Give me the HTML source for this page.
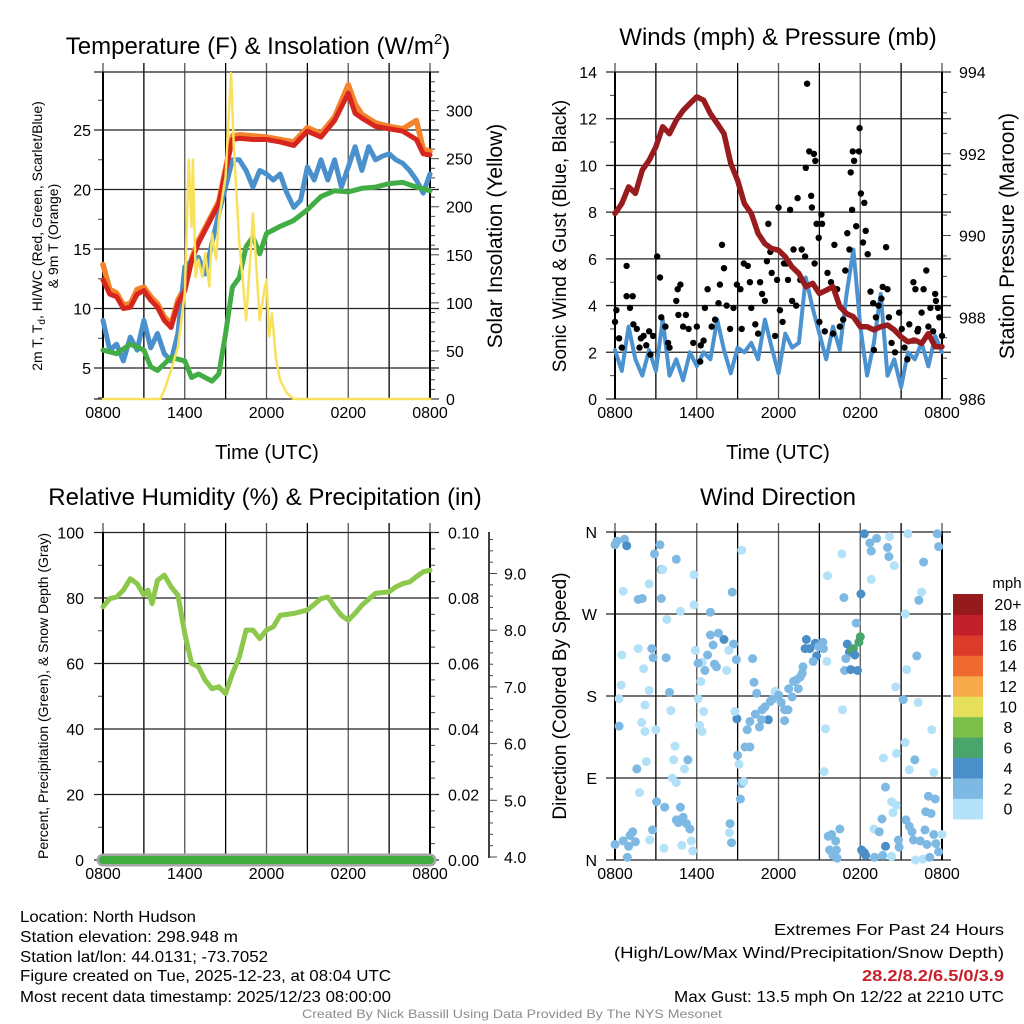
<!DOCTYPE html>
<html><head><meta charset="utf-8"><style>
html,body{margin:0;padding:0;background:#fff;}
svg{display:block;font-family:"Liberation Sans",sans-serif;}
</style></head><body>
<svg id="root" width="1024" height="1024" viewBox="0 0 1024 1024" xmlns="http://www.w3.org/2000/svg">
<rect width="1024" height="1024" fill="#fff"/>
</svg>
<script>
// ---------- data ----------
const hours = [0,0.5,1,1.5,2,2.5,3,3.5,4,4.5,5,5.5,6,6.5,7,7.5,8,8.5,9,9.5,10,11,12,13,14,15,16,17,18,18.5,19,20,21,22,23,23.5,24];
const tempRed = [12.4,11.2,11.0,10.0,10.1,11.2,11.5,10.7,10.1,9.0,8.4,10.4,11.5,14.0,15.5,16.6,17.7,18.8,21.6,24.2,24.3,24.2,24.2,24.0,23.7,24.9,24.4,25.8,28.1,26.4,26.0,25.3,25.1,24.9,24.2,23.0,22.9];
const tempOrange = [13.7,11.6,11.3,10.3,10.4,11.6,11.8,11.0,10.4,9.3,8.7,10.7,11.8,14.2,15.7,16.8,17.9,19.0,21.8,24.5,24.6,24.5,24.4,24.2,24.0,25.2,24.7,26.1,28.8,27.2,26.3,25.6,25.3,25.1,25.8,23.4,23.2];
const blueHours = [0,0.5,1,1.5,2,2.5,3,3.5,4,4.5,5,5.5,6,6.5,7,7.5,8,8.5,9,9.5,10,10.5,11,11.5,12,12.5,13,13.5,14,14.5,15,15.5,16,16.5,17,17.5,18,18.5,19,19.5,20,20.5,21,21.5,22,22.5,23,23.5,24];
const tempBlue = [9.0,6.5,7.0,5.6,7.6,6.5,9.0,6.7,7.9,6.2,5.6,7.9,13.5,14.0,14.3,12.9,15.5,18.0,20.2,22.5,22.5,21.6,20.2,21.6,21.3,20.8,21.3,19.7,18.5,19.1,21.9,20.8,22.5,20.8,22.5,20.2,21.9,23.6,21.6,23.6,22.5,22.8,23.0,22.5,22.2,21.6,20.8,19.7,21.3];
const greenHours = [0,1,2,3,3.5,4,5,6,6.5,7,8,8.5,9,9.5,10,10.5,11,11.5,12,13,14,15,16,17,18,19,20,21,22,23,24];
const dewGreen = [6.5,6.2,7.0,6.5,5.1,4.8,5.9,5.6,4.2,4.5,3.9,4.5,7.9,11.8,12.6,15.2,16.0,14.6,16.3,16.9,17.4,18.3,19.4,19.9,19.8,20.1,20.2,20.5,20.6,20.2,19.9];
const solarHours = [0,4.2,4.5,5,5.5,6,6.3,6.5,6.6,6.8,7,7.3,7.5,7.8,8,8.3,8.5,8.8,9,9.2,9.4,9.6,9.8,10,10.3,10.5,10.8,11,11.3,11.5,11.8,12,12.2,12.4,12.7,13,13.5,14,24];
const solar = [0,0,9,30,54,110,249,179,249,127,145,127,152,117,172,145,186,214,231,287,339,262,214,162,117,82,145,193,127,82,110,124,65,89,41,20,6,0,0];
const tempTicks = [5,10,15,20,25];
const solarTicks = [0,50,100,150,200,250,300];
const timeLabels = ["0800","1400","2000","0200","0800"];

const windHours = [0,0.5,1,1.5,2,2.5,3,3.5,4,4.5,5,5.5,6,6.5,7,7.5,8,8.5,9,9.5,10,10.5,11,11.5,12,12.5,13,13.5,14,14.5,15,15.5,16,16.5,17,17.5,18,18.5,19,19.5,20,20.5,21,21.5,22,22.5,23,23.5,24];
const wind = [2.1,1.2,3.1,1.7,1.0,2.1,1.2,3.4,1.0,1.7,0.8,2.0,1.4,2.0,1.7,3.4,2.1,1.1,2.2,2.0,2.4,1.7,3.4,2.2,1.1,2.8,2.2,2.4,5.2,3.9,2.8,1.7,3.1,2.1,4.5,6.4,3.1,1.0,2.4,4.5,1.0,1.7,0.5,2.0,1.7,2.4,1.4,2.7,2.0];
const pressure = [990.54,990.78,991.19,991.03,991.6,991.84,992.17,992.66,992.49,992.82,993.06,993.23,993.39,993.31,992.98,992.74,992.49,991.76,991.35,990.78,990.54,990.05,989.8,989.68,989.64,989.48,989.23,989.07,988.75,988.83,988.58,988.66,988.75,988.26,988.09,988.01,987.77,987.77,987.69,987.77,987.81,987.69,987.52,987.4,987.44,987.36,987.6,987.28,987.28];
const gustH = [0,0.1,0.5,0.85,0.85,1.3,1.1,1.35,1.6,1.8,2.1,2.3,2.6,2.8,3.1,3.3,3.4,3.7,4.0,4.5,4.6,4.8,4.65,5.0,5.4,5.75,6.0,6.25,6.5,6.6,6.8,7.1,7.35,7.6,7.7,7.85,8.0,8.2,8.45,8.7,8.95,9.2,9.45,9.75,9.9,10.0,10.3,10.65,10.8,11.0,11.15,11.25,11.4,11.5,11.75,11.9,12.0,12.1,12.4,12.6,12.7,12.85,13.0,13.1,13.3,13.4,13.6,13.7,13.95,14.1,14.0,14.25,14.45,14.6,14.7,14.4,14.65,14.8,14.95,15.15,15.2,15.4,15.6,15.85,16.1,16.3,16.5,16.75,16.9,17.05,17.2,17.3,17.4,17.45,17.55,17.7,17.9,17.95,18.05,18.2,18.3,18.4,18.55,18.75,18.95,19.15,19.35,19.55,19.65,19.9,20.0,20.1,20.3,20.55,20.85,21.05,21.25,21.45,21.6,21.9,22.05,22.25,22.5,22.65,22.85,23.0,23.15,23.35,23.5,23.55,23.7,23.8,24.0,0.3,1.9,2.5,3.9,5.2,6.3,9.3,10.5,12.3,15.0,16.0,19.0,21.9,22.2];
const gustV = [3.3,3.8,2.2,5.7,4.4,4.4,3.9,3.2,3.0,2.2,2.7,2.3,1.9,2.7,6.1,5.2,3.5,3.1,2.2,4.2,4.7,4.9,3.6,3.1,3.0,2.4,3.1,1.6,2.5,3.9,4.7,3.1,3.4,4.1,4.9,6.6,5.6,4.0,3.0,3.9,4.9,4.7,5.8,5.7,5.0,3.9,3.2,5.0,4.5,4.2,5.9,7.5,6.3,5.4,2.7,5.1,8.2,3.8,5.8,5.8,5.1,8.1,4.2,6.4,4.0,8.6,5.1,6.4,6.1,13.5,9.9,10.6,8.2,10.5,10.2,8.7,5.8,7.5,6.9,7.9,7.5,2.9,5.4,5.0,6.6,4.7,3.1,3.4,5.5,7.1,6.4,9.7,8.1,10.6,10.2,7.4,10.6,11.6,8.8,6.7,8.4,7.2,6.2,4.6,4.1,3.5,4.0,4.3,4.8,6.5,4.7,3.5,2.4,2.0,3.7,3.0,2.2,1.7,3.2,5.0,4.7,3.0,3.7,4.7,5.5,3.1,3.9,2.9,4.5,4.2,3.9,3.5,2.7,2.6,2.6,2.9,2.4,3.6,2.3,3.0,2.8,3.3,3.3,2.8,2.1,2.5,2.9];
const windTicks = [0,2,4,6,8,10,12,14];
const pressTicks = [986,988,990,992,994];

const rhHours = [0,0.5,1,1.5,2,2.5,3,3.3,3.6,4,4.5,5,5.5,6,6.5,7,7.5,8,8.5,9,9.5,10,10.5,11,11.5,12,12.5,13,14,15,16,16.5,17,17.5,18,18.5,19,20,21,21.5,22,22.5,23,23.5,24];
const rh = [77.3,79.8,80.3,82.4,85.9,84.4,80.9,82.4,78.3,85.4,87,83.4,80.9,69.1,60,59,54.9,52.3,52.9,50.8,56.9,62,70.2,70.2,67.6,70.2,71.2,74.7,75.3,76.3,79.8,80.3,77.3,74.7,73.2,75.3,77.8,81.4,81.9,83.4,84.4,84.9,86.5,88,88.5];
const precipHours = [0,24];
const precip = [0,0];
const snowDepth = [3.9,3.9];
const rhTicks = [0,20,40,60,80,100];
const precipTicks = ["0.00","0.02","0.04","0.06","0.08","0.10"];
const snowTicks = [4,5,6,7,8,9];

const dirH = [0,0.15,0.7,0.86,2.9,3.3,3.4,3.5,4.5,5.8,0.6,1.7,2.0,2.5,3.4,5.8,4.8,3.8,7.0,8.6,9.3,0.5,1.7,2.7,2.8,3.75,2.1,0.45,2.5,4.0,0.3,2.2,4.1,0.3,1.95,2.2,3.0,4.4,4.3,2.3,1.6,5.1,5.35,4.2,4.5,1.8,3.05,3.65,4.8,2.75,2.55,3.6,0,0.6,1.1,1.3,1.5,1.0,0.9,4.5,4.65,5.0,5.25,5.5,4.9,5.6,5.7,8.45,8.4,8.55,9.2,9.3,9.45,9.1,9.0,9.55,9.9,9.7,9.9,10.6,11.25,10.3,10.75,10.8,10.4,10.2,10.1,8.95,8.8,8.9,8.2,8.0,7.6,7.0,7.2,6.8,6.6,7.3,7.45,6.4,6.1,5.9,6.3,6.1,6.5,6.2,6.4,8.7,8.35,11.0,11.4,11.6,11.75,12.0,12.2,12.45,12.7,12.45,12.75,13.0,13.1,13.35,13.6,13.75,13.45,13.8,13.95,14.05,14.3,14.7,14.8,14.55,14.95,15.25,15.3,15.55,15.45,15.35,15.6,16.65,16.8,18.05,17.7,17.05,17.2,17.5,17.4,17.9,18.0,16.95,17.6,16.85,17.3,17.8,16.7,18.3,18.7,18.8,19.2,18.8,20.15,20.0,20.1,20.5,21.5,22.65,22.5,22.3,21.3,22.15,21.4,20.6,21.15,22.25,23.25,21.3,20.65,19.7,22.0,21.6,23.4,19.85,20.3,20.65,20.4,23.0,23.5,22.8,23.2,21.35,19.6,19.0,19.4,21.6,21.8,22.75,23.4,24.0,20.8,21.9,22.4,22.9,23.55,20.85,19.85,23.75,18.1,18.3,18.4,18.2,19.05,19.65,20.3,22.05,22.6,23.1,15.65,15.9,16.5,16.2,15.75,16.25,16.0,16.3,23.65,23.75];
const dirD = [346,350,352,345,336,346,319,319,330,313,295,286,287,303,287,280,273,264,272,294,340,225,232,232,222,222,210,192,186,184,177,170,164,147,151,141,143,125,110,108,100,100,110,90,85,74,64,58,58,33,22,13,17,21,27,31,20,15,3,44,41,47,40,34,16,21,10,40,30,19,67,84,86,105,115,124,124,143,152,146,154,160,154,165,183,195,221,155,163,220,208,242,249,247,236,225,208,215,212,217,216,230,196,177,163,148,141,237,230,168,174,177,185,181,173,165,165,153,188,179,196,198,201,205,188,212,232,242,232,238,224,218,234,239,232,218,144,97,312,336,288,292,260,237,228,232,230,239,245,221,225,208,209,208,165,358,348,339,353,308,355,343,333,323,358,327,294,285,270,224,209,190,176,173,143,129,117,112,110,99,96,80,64,60,52,70,67,53,51,44,45,34,31,37,31,33,28,28,22,22,21,17,18,14,15,9,11,8,5,9,3,5,4,0,1,3,26,28,34,21,11,11,5,2,358,344];
const dirS = [3,3,3,5,3,3,3,1,3,1,1,3,3,1,3,1,1,1,3,3,1,1,1,3,3,3,1,1,1,3,1,1,1,3,1,1,1,1,1,1,3,1,3,1,1,1,3,3,3,3,1,1,3,3,3,3,3,3,3,3,3,3,3,3,1,1,1,3,1,3,3,3,1,1,3,3,3,3,3,3,5,3,3,3,3,3,3,5,1,3,1,5,3,3,3,3,3,3,3,1,3,1,1,1,1,1,1,3,1,3,3,3,1,3,3,3,3,3,3,3,3,3,3,3,3,3,5,5,5,5,5,3,3,3,3,1,1,1,1,1,3,5,3,5,5,7,7,7,7,3,5,3,5,5,1,5,3,3,3,1,1,3,3,1,1,3,1,3,1,3,1,1,3,1,1,1,1,1,3,1,1,3,1,1,1,3,3,3,3,3,3,1,3,3,3,3,3,1,3,3,3,3,3,3,5,3,5,5,5,5,3,3,1,1,1,3,3,3,3,3,3,3,3,3,3,3,3,3,3,3,3];
const dirTicks = ["N","E","S","W","N"];
const speedBins = ["0","2","4","6","8","10","12","14","16","18","20+"];
const binColors = ["#b3e1f7","#7eb9e3","#4a8fc7","#4aa56d","#7cc04b","#e6df5a","#f6aa4a","#ef6a2e","#dc3a2a","#c1202a","#951a1d"];

// ---------- helpers ----------
const NS="http://www.w3.org/2000/svg";
const root=document.getElementById('root');
function mk(tag,attrs,parent){const e=document.createElementNS(NS,tag);for(const k in attrs)e.setAttribute(k,attrs[k]);(parent||root).appendChild(e);return e;}
function txt(s,x,y,size,anchor,parent,extra){const t=mk('text',Object.assign({x:x,y:y,'font-size':size,'text-anchor':anchor||'middle',fill:'#000'},extra||{}),parent);t.textContent=s;return t;}

const X0_L=103, X1_L=430, X0_R=615, X1_R=942;
const TICK=16;
function xsc(x0,x1){return h=>x0+h*(x1-x0)/24;}

function frame(g,x0,x1,y0,y1){
  for(let i=0;i<=8;i++){const x=x0+i*(x1-x0)/8;
    const l=mk('line',{x1:x,y1:y0-9,x2:x,y2:y1,stroke:(i%2?'#000':'#555'),'stroke-width':1.3},g);
    
    }
  for(let i=0;i<5;i++){const x=x0+i*2*(x1-x0)/8;
    const t=txt(timeLabels[i],x,y1+19,TICK,'middle',g);
    
    }
}
function border(g,x0,x1,y0,y1){
  mk('line',{x1:x0,y1:y0,x2:x0,y2:y1,stroke:'#000','stroke-width':2},g);
  mk('line',{x1:x1,y1:y0,x2:x1,y2:y1,stroke:'#000','stroke-width':2},g);
}
function hgrid(g,x0,x1,y){
  const l=mk('line',{x1:x0-9,y1:y,x2:x1+9,y2:y,stroke:'#222','stroke-width':1.3},g);
  
  
}
function poly(g,hs,vs,xs,ys,color,w,name){
  let d='';for(let i=0;i<hs.length;i++){d+=(i?'L':'M')+xs(hs[i]).toFixed(1)+' '+ys(vs[i]).toFixed(1);}
  const p=mk('path',{d:d,fill:'none',stroke:color,'stroke-width':w,'stroke-linejoin':'round','stroke-linecap':'round'},g);
  
  
  return p;
}
function vlabel(s,x,y,size,g){const t=txt(s,x,y,size,'middle',g,{transform:`rotate(-90 ${x} ${y})`});return t;}

// ---------- Panel 1 ----------
(function(){
  const g=mk('g',{});
  
  
  const xs=xsc(X0_L,X1_L), y0=72,y1=399;
  const yT=v=>130+(25-v)*11.9, yS=s=>399-s*0.9613;
  frame(g,X0_L,X1_L,y0,y1);
  hgrid(g,X0_L,X1_L,y0);
  hgrid(g,X0_L,X1_L,y1);
  tempTicks.forEach(v=>{hgrid(g,X0_L,X1_L,yT(v));const t=txt(String(v),91,yT(v)+6,TICK,'end',g);});
  for(let v=2.5;v<30;v+=5){const y=yT(v);if(y>y0&&y<y1)mk('line',{x1:X0_L-5,y1:y,x2:X0_L,y2:y,stroke:'#444'},g);}
  for(let s=0;s<=340;s+=10){mk('line',{x1:X1_L,y1:yS(s),x2:X1_L+(s%50?5:9),y2:yS(s),stroke:'#444'},g);}
  solarTicks.forEach(s=>{const t=txt(String(s),446,yS(s)+6,TICK,'start',g);});
  border(g,X0_L,X1_L,y0,y1);
  poly(g,hours,tempOrange,xs,yT,'#f4832c',5.5,'9m-temp-orange-line');
  poly(g,blueHours,tempBlue,xs,yT,'#4a90cd',5,'heat-index-blue-line');
  poly(g,greenHours,dewGreen,xs,yT,'#43ad45',5,'dewpoint-green-line');
  poly(g,hours,tempRed,xs,yT,'#d7261e',5,'2m-temp-red-line');
  poly(g,solarHours,solar,xs,yS,'#f8e15c',2.5,'solar-insolation-line');
  const tt=txt('Temperature (F) & Insolation (W/m',258,54,24,'middle',g);
  const sup=mk('tspan',{dy:-10,'font-size':15},tt);sup.textContent='2';
  const cl=mk('tspan',{dy:10},tt);cl.textContent=')';
  
  
  const a=txt('2m T, T',0,0,14,'middle',g,{transform:'translate(42 236) rotate(-90)'});
  const sub=mk('tspan',{dy:3,'font-size':10},a);sub.textContent='d';
  const rest=mk('tspan',{dy:-3},a);rest.textContent=', HI/WC (Red, Green, Scarlet/Blue)';
  
  
  const b=vlabel('& 9m T (Orange)',58,236,14,g);
  
  
  const c=vlabel('Solar Insolation (Yellow)',502,236,21,g);
  
  
  const d=txt('Time (UTC)',267,459,20,'middle',g);
  
  
})();

// ---------- Panel 2 ----------
(function(){
  const g=mk('g',{});
  
  
  const xs=xsc(X0_R,X1_R), y0=72,y1=399;
  const yW=v=>399-v*23.357, yP=p=>399-(p-986)*40.875;
  frame(g,X0_R,X1_R,y0,y1);
  windTicks.forEach(v=>{hgrid(g,X0_R,X1_R,yW(v));const t=txt(String(v),597,yW(v)+6,TICK,'end',g);});
  for(let v=1;v<14;v+=2)mk('line',{x1:X0_R-5,y1:yW(v),x2:X0_R,y2:yW(v),stroke:'#444'},g);
  for(let p=986;p<=994.01;p+=0.5)mk('line',{x1:X1_R,y1:yP(p),x2:X1_R+(Math.abs(p-Math.round(p/2)*2)<0.01?9:5),y2:yP(p),stroke:'#444'},g);
  pressTicks.forEach(p=>{const t=txt(String(p),959,yP(p)+6,TICK,'start',g);});
  border(g,X0_R,X1_R,y0,y1);
  poly(g,windHours,wind,xs,yW,'#4b92d0',4,'sonic-wind-blue-line');
  for(let i=0;i<gustH.length;i++){
    const c=mk('circle',{cx:xs(gustH[i]).toFixed(1),cy:yW(gustV[i]).toFixed(1),r:3.2,fill:'#000'},g);
    
    
  }
  poly(g,windHours,pressure,xs,yP,'#981b1e',5.5,'station-pressure-line');
  const t=txt('Winds (mph) & Pressure (mb)',778,45,24,'middle',g);
  
  
  const a=vlabel('Sonic Wind & Gust (Blue, Black)',566,236,19,g);
  
  
  const b=vlabel('Station Pressure (Maroon)',1014,236,21,g);
  
  
  const d=txt('Time (UTC)',778,459,20,'middle',g);
  
  
})();

// ---------- Panel 3 ----------
(function(){
  const g=mk('g',{});
  
  
  const xs=xsc(X0_L,X1_L), y0=532,y1=860;
  const yR=v=>860-v*3.275, yPr=v=>860-v*3275, ySn=v=>857-(v-4)*56.7;
  frame(g,X0_L,X1_L,y0,y1);
  rhTicks.forEach((v,i)=>{hgrid(g,X0_L,X1_L,yR(v));
    const t=txt(String(v),84,yR(v)+6,TICK,'end',g);
    const u=txt(precipTicks[i],448,yR(v)+6,TICK,'start',g);});
  for(let v=10;v<100;v+=20)mk('line',{x1:X0_L-5,y1:yR(v),x2:X0_L,y2:yR(v),stroke:'#444'},g);
  for(let v=0;v<=100;v+=5)mk('line',{x1:X1_L,y1:yR(v),x2:X1_L+5,y2:yR(v),stroke:'#444'},g);
  mk('line',{x1:489,y1:y0,x2:489,y2:y1-2,stroke:'#000','stroke-width':1.5},g);
  for(let v=4;v<=9.61;v+=0.2){const big=Math.abs(v-Math.round(v))<0.01;mk('line',{x1:489,y1:ySn(v),x2:489+(big?8:4),y2:ySn(v),stroke:'#444'},g);}
  snowTicks.forEach(v=>{const t=txt(v.toFixed(1),504,ySn(v)+6,TICK,'start',g);});
  border(g,X0_L,X1_L,y0,y1);
  poly(g,rhHours,rh,xs,yR,'#8cc84b',5,'relative-humidity-line');
  poly(g,precipHours,snowDepth.map(v=>0),xs,yPr,'#a6a6a6',13,'snow-depth-line');
  poly(g,precipHours,precip,xs,yPr,'#3fae3f',8,'precipitation-line');
  const t=txt('Relative Humidity (%) & Precipitation (in)',265,505,24,'middle',g);
  
  
  const a=vlabel('Percent, Precipitation (Green), & Snow Depth (Gray)',48,696,14,g);
  
  
})();

// ---------- Panel 4 ----------
(function(){
  const g=mk('g',{});
  
  
  const xs=xsc(X0_R,X1_R), y0=532,y1=860;
  const yD=d=>860-d*0.9111;
  frame(g,X0_R,X1_R,y0,y1);
  dirTicks.forEach((s,i)=>{const y=yD(i*90);hgrid(g,X0_R,X1_R,y);const t=txt(s,597,y+6,TICK,'end',g);});
  border(g,X0_R,X1_R,y0,y1);
  for(let i=0;i<dirH.length;i++){
    const sp=(dirS[i]===undefined)?3:dirS[i];
    const bin=Math.min(10,Math.floor(sp/2));
    const c=mk('circle',{cx:xs(dirH[i]).toFixed(1),cy:yD(dirD[i]).toFixed(1),r:4.5,fill:binColors[bin]},g);
    
    
  }
  const t=txt('Wind Direction',778,505,24,'middle',g);
  
  
  const a=vlabel('Direction (Colored By Speed)',566,696,19,g);
  
  
  const lg=mk('g',{},g);
  
  
  const bh=20.45;
  for(let i=0;i<speedBins.length;i++){
    const yy=594+(10-i)*bh;
    const r=mk('rect',{x:953,y:yy.toFixed(1),width:30,height:(bh+0.5).toFixed(1),fill:binColors[i]},lg);
    
    
    const l=txt(speedBins[i],1008,yy+bh/2+6,TICK,'middle',lg);
    
    
  }
  const m=txt('mph',1007,588,15,'middle',lg);
  
  
})();

// ---------- footer ----------
(function(){
  const g=mk('g',{'font-family':'"Liberation Sans Narrow","Liberation Sans",sans-serif'});
  
  
  const left=[["Location: North Hudson",176,922],["Station elevation: 298.948 m",218,942],["Station lat/lon: 44.0131; -73.7052",248,962],["Figure created on Tue, 2025-12-23, at 08:04 UTC",371,981],["Most recent data timestamp: 2025/12/23 08:00:00",371,1002]];
  left.forEach(l=>{const t=txt(l[0],20,l[2],16,'start',g,{textLength:l[1],lengthAdjust:'spacingAndGlyphs'});});
  const right=[["Extremes For Past 24 Hours",230,935,'#000','normal'],["(High/Low/Max Wind/Precipitation/Snow Depth)",390,958,'#000','normal'],["28.2/8.2/6.5/0/3.9",142,981,'#c8202a','bold'],["Max Gust: 13.5 mph On 12/22 at 2210 UTC",330,1002,'#000','normal']];
  right.forEach(l=>{const t=txt(l[0],1004,l[2],16,'end',g,{textLength:l[1],lengthAdjust:'spacingAndGlyphs',fill:l[3],'font-weight':l[4]});});
  const c=txt('Created By Nick Bassill Using Data Provided By The NYS Mesonet',512,1018,12,'middle',g,{fill:'#8c8c8c',textLength:420,lengthAdjust:'spacingAndGlyphs'});
  
  
})();
</script>
</body></html>
